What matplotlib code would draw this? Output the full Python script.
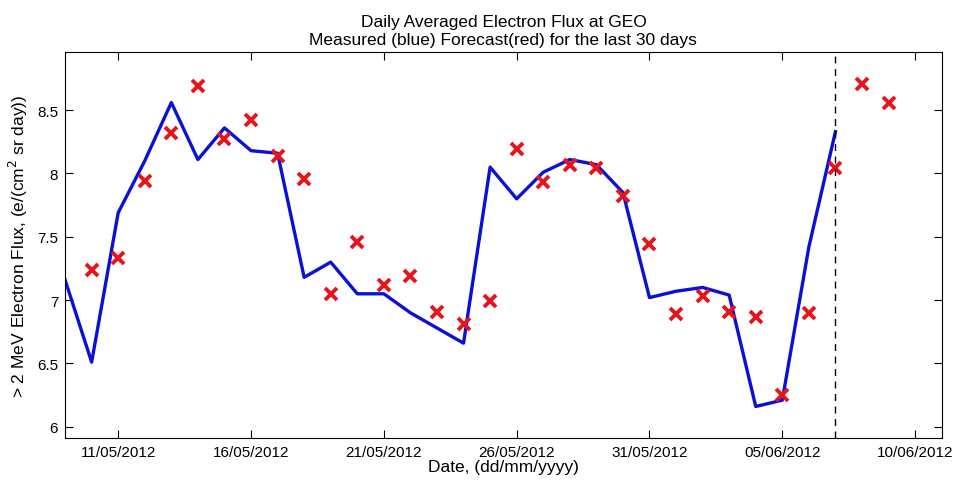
import datetime as dt
import matplotlib
matplotlib.use("Agg")
import matplotlib.pyplot as plt
import matplotlib.dates as mdates

plt.rcParams['font.family'] = ['Liberation Sans', 'DejaVu Sans']

# measured daily averaged flux (log10), 09/05/2012 .. 07/06/2012
measured_start = dt.datetime(2012, 5, 9)
measured = [7.16, 6.51, 7.69, 8.10, 8.56, 8.11, 8.36, 8.18, 8.16, 7.18,
            7.30, 7.05, 7.05, 6.90, 6.78, 6.66, 8.05, 7.80, 8.01, 8.11,
            8.07, 7.85, 7.02, 7.07, 7.10, 7.04, 6.16, 6.21, 7.42, 8.33]

# forecast values, 10/05/2012 .. 09/06/2012
forecast_start = dt.datetime(2012, 5, 10)
forecast = [7.24, 7.33, 7.94, 8.32, 8.69, 8.27, 8.42, 8.14, 7.96, 7.05,
            7.46, 7.12, 7.19, 6.91, 6.81, 6.99, 8.19, 7.93, 8.07, 8.04,
            7.82, 7.44, 6.89, 7.03, 6.91, 6.87, 6.25, 6.90, 8.04, 8.71, 8.56]

now_date = dt.datetime(2012, 6, 7)

measured_dates = [measured_start + dt.timedelta(days=i) for i in range(len(measured))]
forecast_dates = [forecast_start + dt.timedelta(days=i) for i in range(len(forecast))]

fig = plt.figure(figsize=(9.57, 4.81), dpi=100)
ax = fig.add_axes([0.068, 0.087, 0.916, 0.803])

ax.plot(measured_dates, measured, color='#0a10d8', linewidth=2.4)
ax.plot(forecast_dates, forecast, linestyle='none', marker='x', color='#e8141c',
        markersize=8, markeredgewidth=2.8)

# y range follows the data with a fixed margin
lo = min(min(measured), min(forecast)) - 0.25
hi = max(max(measured), max(forecast)) + 0.25
ax.axvline(now_date, color='black', linestyle=(0, (5, 4)), linewidth=1.0)

ax.set_xlim(dt.datetime(2012, 5, 9), dt.datetime(2012, 6, 11))
ax.set_ylim(lo, hi)
ax.set_yticks([6, 6.5, 7, 7.5, 8, 8.5])
ax.set_yticklabels(['6', '6.5', '7', '7.5', '8', '8.5'])

xt = [dt.datetime(2012, 5, 11) + dt.timedelta(days=5 * i) for i in range(7)]
ax.set_xticks(xt)
ax.xaxis.set_major_formatter(mdates.DateFormatter('%d/%m/%Y'))

ax.tick_params(direction='in', top=True, right=True, length=6, width=0.8,
               labelsize=11, pad=5)
for s in ax.spines.values():
    s.set_linewidth(0.8)

ax.set_xlabel('Date, (dd/mm/yyyy)', fontsize=12.5, labelpad=0)
ax.set_ylabel('> 2 MeV Electron Flux, (e/(cm$^2$ sr day))', fontsize=12.5, labelpad=5)
ax.set_title('Daily Averaged Electron Flux at GEO\nMeasured (blue) Forecast(red) for the last 30 days',
             fontsize=12.5, linespacing=1.25, pad=6)

plt.savefig('out.png', dpi=100)
